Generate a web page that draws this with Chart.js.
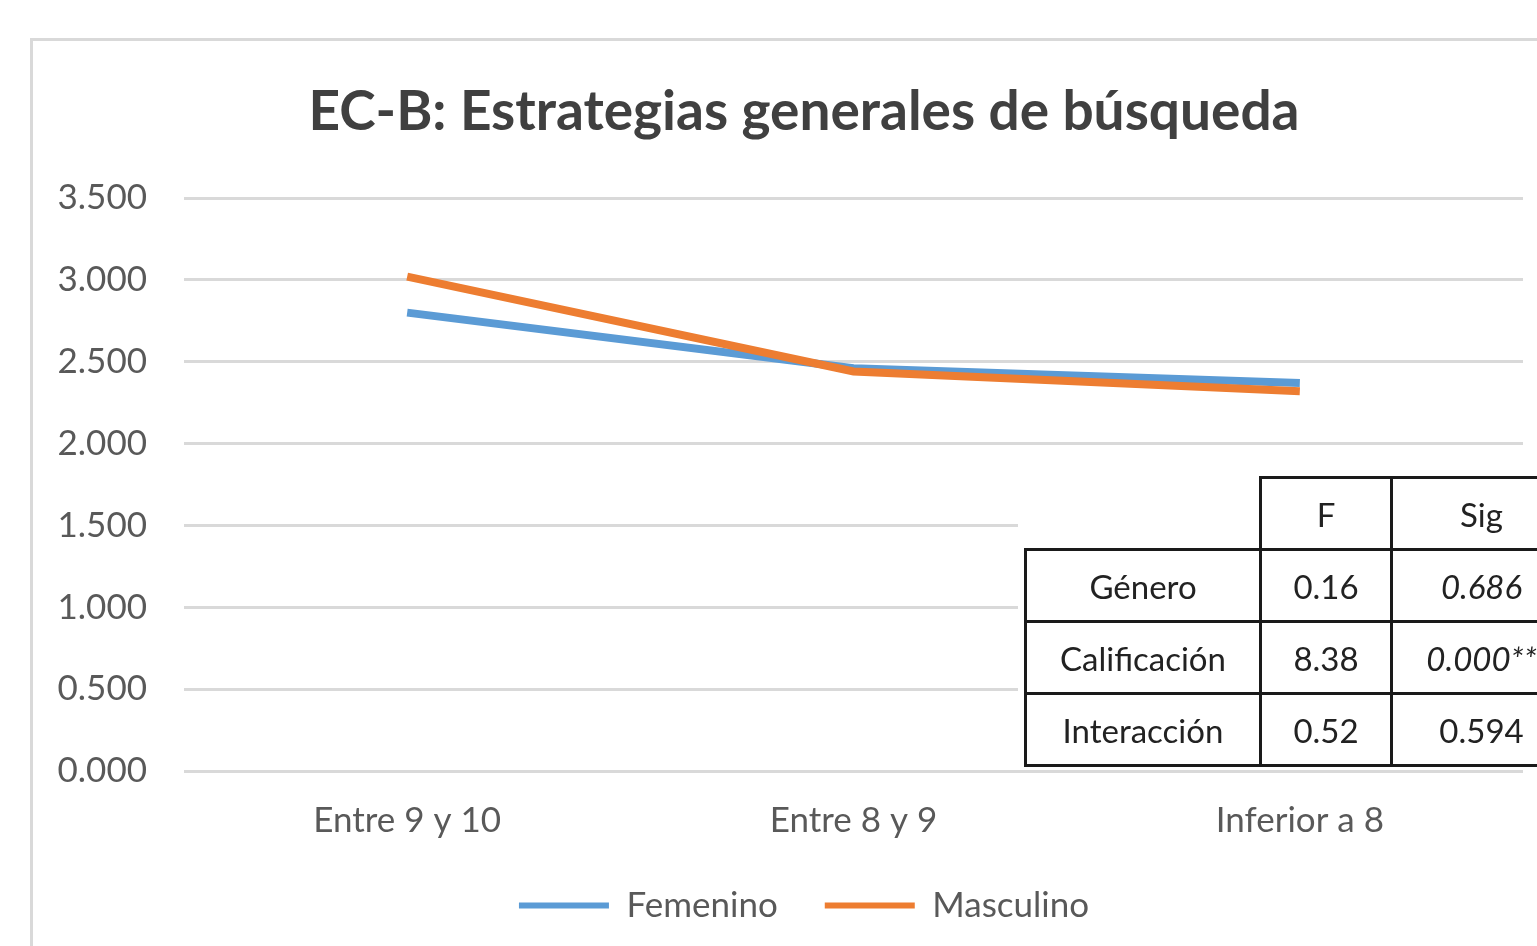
<!DOCTYPE html>
<html>
<head>
<meta charset="utf-8">
<script src="https://cdn.jsdelivr.net/npm/chart.js@4.4.1/dist/chart.umd.min.js"></script>
<style>
  body { margin: 0; background: #fff; overflow: hidden; width: 1537px; height: 946px; position: relative; }
  #frame { position: absolute; left: 30px; top: 38px; width: 1542px; height: 960px; border: 3px solid #d9d9d9; background: #fff; }
  #frame canvas { display: block; }
  #tableBox { position: absolute; left: 1018px; top: 512px; width: 560px; height: 256px; background: #fff; }
  #stats { position: absolute; left: 1024px; top: 476px; width: 546px; table-layout: fixed; border-collapse: collapse; font-family: Lato, sans-serif; font-size: 33px; color: #222; }
  #stats td { border: 3px solid #1a1a1a; height: 69px; text-align: center; padding: 0; }
  #stats td.blank { border: none; }
  #stats .it { font-style: italic; }
</style>
</head>
<body>
<div id="frame"><canvas id="chart" width="1542" height="960"></canvas></div>
<div id="tableBox"></div>
<table id="stats"><colgroup><col style="width:235px"><col style="width:131px"><col style="width:180px"></colgroup><tbody id="statsBody"></tbody></table>
<script>
const categories = ['Entre 9 y 10', 'Entre 8 y 9', 'Inferior a 8'];
const femenino = [2.80, 2.46, 2.37];
const masculino = [3.02, 2.44, 2.32];

// tabla ANOVA
const rowNames = ['Género', 'Calificación', 'Interacción'];
const fValues = ['0.16', '8.38', '0.52'];
const sigValues = ['0.686', '0.000**', '0.594'];
const sigItalic = [true, true, false];

let html = '<tr><td class="blank"></td><td>F</td><td>Sig</td></tr>';
rowNames.forEach((name, i) => {
  html += '<tr><td>' + name + '</td><td>' + fValues[i] +
    '</td><td' + (sigItalic[i] ? ' class="it"' : '') + '>' + sigValues[i] + '</td></tr>';
});
document.getElementById('statsBody').innerHTML = html;

const ctx = document.getElementById('chart').getContext('2d');
new Chart(ctx, {
  type: 'line',
  data: {
    labels: categories,
    datasets: [
      {
        label: 'Femenino',
        data: femenino,
        borderColor: '#5b9bd5',
        backgroundColor: '#5b9bd5',
        borderWidth: 8,
        pointRadius: 0,
        order: 1,
      },
      {
        label: 'Masculino',
        data: masculino,
        borderColor: '#ed7d31',
        backgroundColor: '#ed7d31',
        borderWidth: 8,
        pointRadius: 0,
        order: 0,
      },
    ],
  },
  options: {
    responsive: false,
    animation: false,
    layout: { padding: { left: 0, right: 0, top: 0, bottom: 68 } },
    plugins: {
      title: {
        display: true,
        text: 'EC-B: Estrategias generales de búsqueda',
        color: '#404040',
        font: { family: 'Lato', size: 55, weight: 'bold' },
        padding: { top: 38, bottom: 53 },
      },
      legend: {
        position: 'bottom',
        labels: {
          boxWidth: 90,
          boxHeight: 6,
          color: '#595959',
          font: { family: 'Lato', size: 35 },
          padding: 47,
          sort: (a, b) => a.datasetIndex - b.datasetIndex,
          generateLabels: (chart) =>
            Chart.defaults.plugins.legend.labels.generateLabels(chart).map((l) => ({ ...l, lineWidth: 0 })),
        },
      },
      tooltip: { enabled: false },
    },
    scales: {
      x: {
        offset: true,
        grid: { display: false },
        border: { display: false },
        ticks: { color: '#595959', font: { family: 'Lato', size: 35, lineHeight: 1 }, padding: 24 },
        afterFit: (scale) => { scale.height = 70; },
      },
      y: {
        min: 0,
        max: 3.5,
        ticks: {
          stepSize: 0.5,
          color: '#595959',
          font: { family: 'Lato', size: 35 },
          padding: 37,
          callback: (v) => Number(v).toFixed(3),
        },
        grid: { color: '#d9d9d9', lineWidth: 3, drawTicks: false },
        border: { display: false },
        afterFit: (scale) => { scale.width = 151; },
      },
      // eje fantasma para reservar el margen derecho
      y2: {
        position: 'right',
        display: true,
        ticks: { display: false },
        grid: { display: false, drawTicks: false },
        border: { display: false },
        afterFit: (scale) => { scale.width = 52; },
      },
    },
  },
});
</script>
</body>
</html>
